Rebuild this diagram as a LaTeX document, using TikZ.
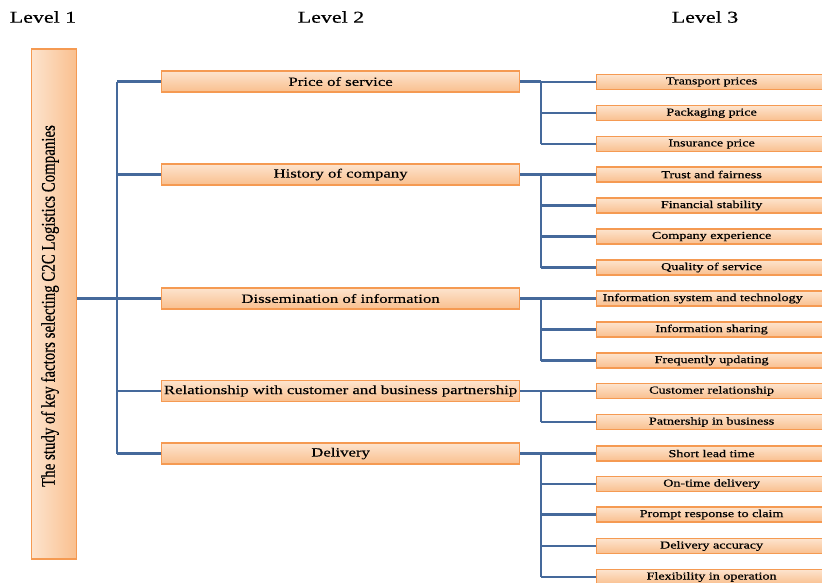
\documentclass[tikz,border=0pt]{standalone}
\usepackage{fontspec}
\setmainfont[FakeStretch=1.33]{Liberation Serif}
\newfontfamily\plainserif[FakeBold=0.5]{Liberation Serif}
\newfontfamily\smallserif[FakeStretch=1.33,FakeBold=0.7]{Liberation Serif}
\newfontfamily\midserif[FakeStretch=1.33,FakeBold=0.3]{Liberation Serif}
\newfontfamily\headserif[FakeStretch=1.33,FakeBold=0.6]{Liberation Serif}
\usetikzlibrary{positioning}
\definecolor{boxline}{HTML}{F59A52}
\definecolor{boxlight}{HTML}{FDE4CE}
\definecolor{boxdark}{HTML}{F9BF8E}
\definecolor{conn}{HTML}{45699B}
\tikzset{
  lvbox/.style={draw=boxline, line width=1.2pt, inner sep=0pt, anchor=west,
    top color=boxlight, bottom color=boxdark, text=black},
  lvtwo/.style={lvbox, minimum width=358pt, minimum height=21pt, font=\midserif\fontsize{12.6}{14}\selectfont},
  lvthree/.style={lvbox, minimum width=230pt, minimum height=15pt, font=\smallserif\fontsize{10.6}{12}\selectfont},
  lvhead/.style={font=\headserif\fontsize{16.5}{18}\selectfont},
  conline/.style={draw=conn, line width=2.2pt},
}
\begin{document}
\begin{tikzpicture}[x=1pt,y=-1pt]
\useasboundingbox (0,0) rectangle (822,582);
\clip (0,0) rectangle (822,582);
% headers
\node[lvhead] (h1) at (43,17) {Level 1};
\node[lvhead] (h2) at (331,17) {Level 2};
\node[lvhead] (h3) at (705,17) {Level 3};
% level 1
\node[draw=boxline, line width=1.2pt, left color=boxlight, right color=boxdark,
      minimum width=45pt, minimum height=510pt, inner sep=0pt] (root) at (54,304) {};
\node[rotate=90, inner sep=0pt] (roottext) at (50,306)
  {\scalebox{1}[1.3]{\plainserif\fontsize{14.9}{16}\selectfont The study of key factors selecting C2C Logistics Companies}};
% level 2
\node[lvtwo] (a) at (161,81.5) {Price of service};
\node[lvtwo] (b) at (161,174.5) {History of company};
\node[lvtwo] (c) at (161,298.5) {Dissemination of information};
\node[lvtwo] (d) at (161,391) {Relationship with customer and business partnership};
\node[lvtwo] (e) at (161,453.5) {Delivery};
% level 3
\node[lvthree] (a1) at (596,82) {Transport prices};
\node[lvthree] (a2) at (596,113) {Packaging price};
\node[lvthree] (a3) at (596,144) {Insurance price};
\node[lvthree] (b1) at (596,174.5) {Trust and fairness};
\node[lvthree] (b2) at (596,205.5) {Financial stability};
\node[lvthree] (b3) at (596,236.5) {Company experience};
\node[lvthree] (b4) at (596,267.5) {Quality of service};
\node[lvthree, text width=226pt, align=left] (c1) at (596,298.5) {\hspace*{4pt}Information system and technology};
\node[lvthree] (c2) at (596,329.5) {Information sharing};
\node[lvthree] (c3) at (596,360.5) {Frequently updating};
\node[lvthree] (d1) at (596,391) {Customer relationship};
\node[lvthree] (d2) at (596,422) {Patnership in business};
\node[lvthree] (e1) at (596,453.5) {Short lead time};
\node[lvthree] (e2) at (596,484) {On-time delivery};
\node[lvthree] (e3) at (596,514.5) {Prompt response to claim};
\node[lvthree] (e4) at (596,546) {Delivery accuracy};
\node[lvthree] (e5) at (596,577) {Flexibility in operation};
% connectors level 1 -> level 2
\coordinate (t1) at (117,0);
\draw[conline] (root.east |- c.west) -- (c.west);
\draw[conline] (a.west -| t1) -- (e.west -| t1);
\foreach \n in {a,b,d,e} \draw[conline] (\n.west -| t1) -- (\n.west);
% connectors level 2 -> level 3
\coordinate (t2) at (541,0);
\foreach \p/\first/\last/\list in {a/a1/a3/{a1,a2,a3}, b/b1/b4/{b1,b2,b3,b4}, c/c1/c3/{c1,c2,c3}, d/d1/d2/{d1,d2}, e/e1/e5/{e1,e2,e3,e4,e5}}{
  \draw[conline] (\p.east) -- (\p.east -| t2);
  \draw[conline] (\first.west -| t2) -- (\last.west -| t2);
  \foreach \q in \list \draw[conline] (\q.west -| t2) -- (\q.west);
}
\end{tikzpicture}
\end{document}
